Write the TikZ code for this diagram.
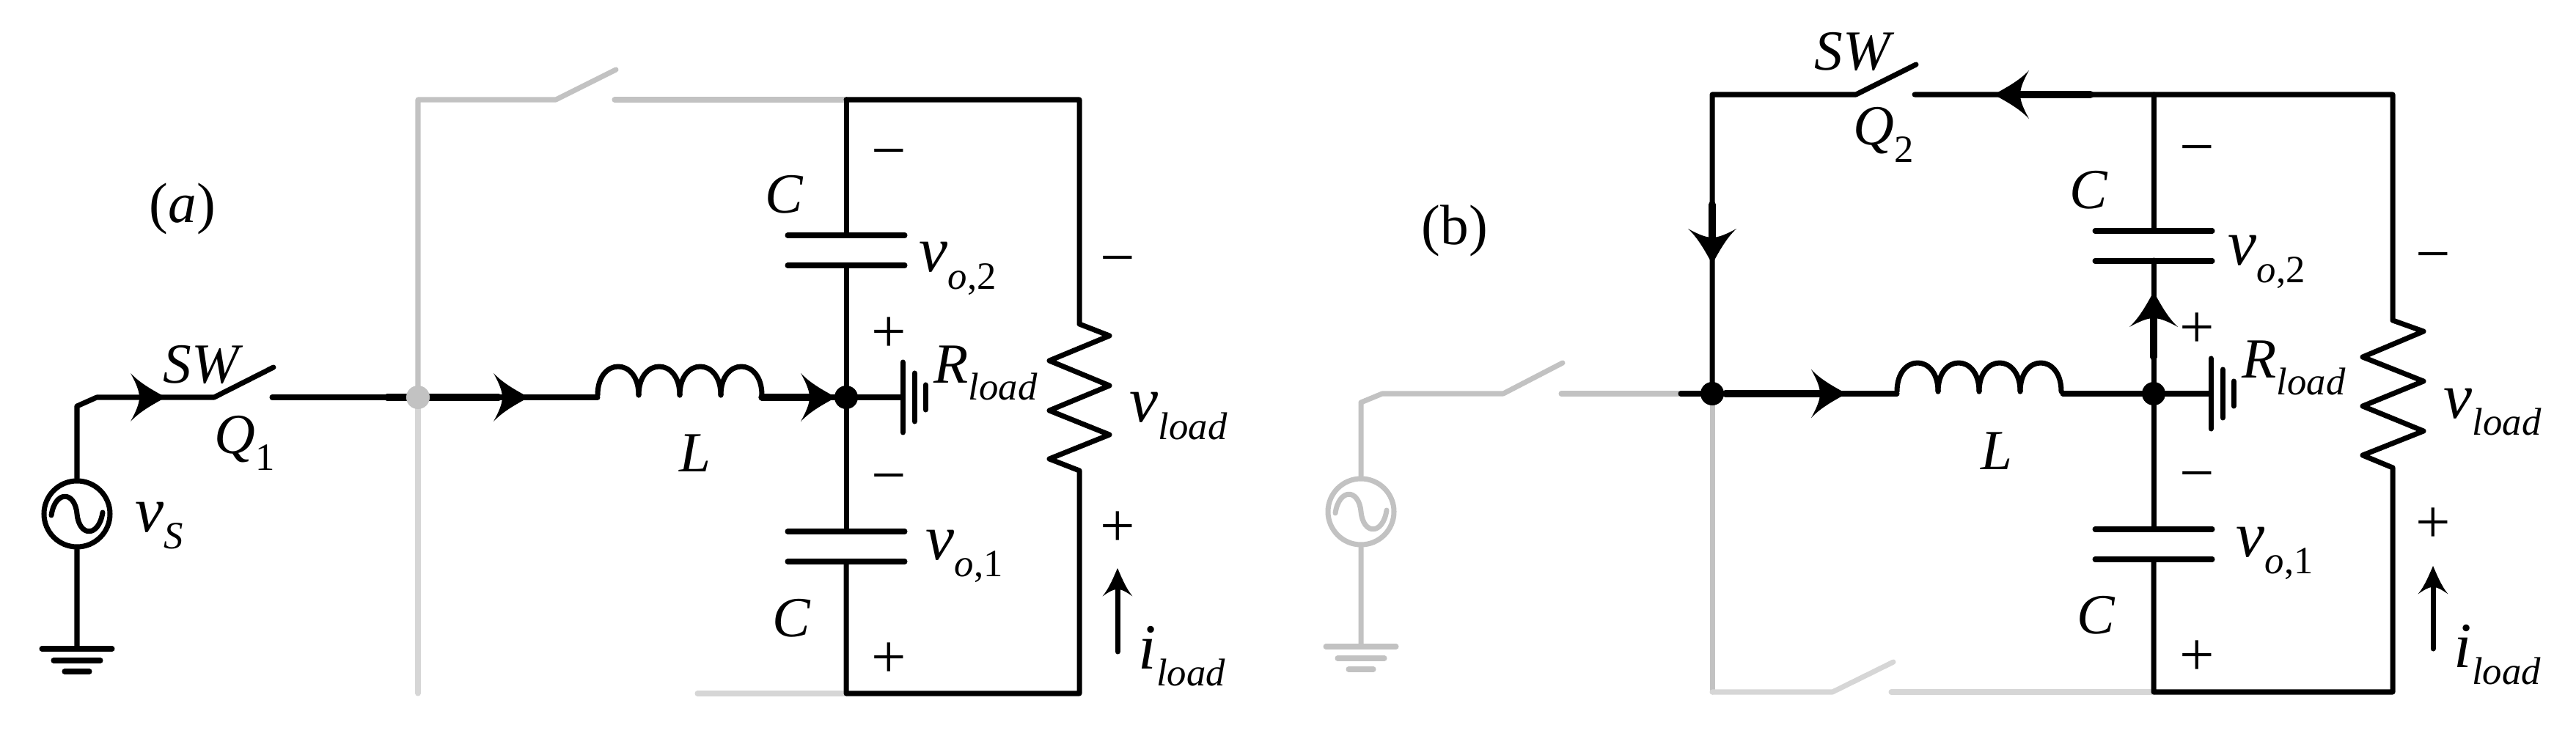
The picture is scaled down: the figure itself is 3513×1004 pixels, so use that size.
\documentclass[tikz,border=0pt]{standalone}
\usepackage[no-math]{fontspec}
\setmainfont{Liberation Serif}
\definecolor{wiregray}{gray}{0.76}
\definecolor{palegray}{gray}{0.84}
\newcommand{\lab}[2]{\textit{#1}\raisebox{-.3em}{\fontsize{15}{15}\selectfont #2}}
\newcommand{\bigv}[2]{{\fontsize{25}{25}\selectfont\textit{#1}}\raisebox{-6.8pt}{\fontsize{15}{15}\selectfont #2}}

\begin{document}
\begin{tikzpicture}[x=0.1mm,y=-0.1mm]
\tikzset{wire/.style={line width=2pt,line cap=round,line join=round}}
\tikzset{heavy/.style={line width=2.7pt,line cap=round}}
\tikzset{faded/.style={wire,color=wiregray}}
\tikzset{pale/.style={wire,color=palegray}}
\tikzset{txt/.style={inner sep=0pt,anchor=base west,font=\fontsize{22}{22}\selectfont}}
\tikzset{sign/.style={inner sep=0pt,font=\fontsize{24}{24}\selectfont}}
\tikzset{dot/.style={circle,fill=black,inner sep=0pt,minimum size=3.2mm}}
\tikzset{src/.style={circle,wire,draw,inner sep=0pt,minimum size=9mm}}
\tikzset{flow/.pic={\fill (0,0) .. controls (-14,-8) and (-34,-18) .. (-48,-33) .. controls (-42,-22) and (-36,-10) .. (-36,0) .. controls (-36,10) and (-42,22) .. (-48,33) .. controls (-34,18) and (-14,8) .. (0,0) -- cycle;}}
\tikzset{ground/.pic={\draw[wire] (-48,0) -- (48,0) (-32,16) -- (32,16) (-17,31) -- (17,31);}}
\tikzset{sine/.pic={\draw[wire] (-35,2) .. controls (-30,-32) and (-3,-32) .. (0,0) .. controls (3,32) and (30,32) .. (35,-2);}}
\tikzset{coil/.pic={\foreach \k in {0,56,112,168} \draw[wire] (\k,-3) .. controls (\k,-55) and (\k+56,-55) .. (\k+56,-3);}}
\tikzset{cells/.pic={\draw[wire] (0,-48) -- (0,48) (16,-33) -- (16,33) (31,-17) -- (31,17);}}
\tikzset{plates/.pic={\draw[wire] (-80,0) -- (80,0) (-80,41) -- (80,41);}}
\useasboundingbox (0,0) rectangle (3513,1004);

\coordinate (mida) at (570,542);
\coordinate (toplefta) at (570,136);
\coordinate (hingetopa) at (758,136);
\coordinate (bladetopa) at (840,95);
\coordinate (conttopa) at (838,136);
\coordinate (busa) at (1154,136);
\coordinate (loada) at (1472,136);
\coordinate (busbota) at (1154,946);
\coordinate (loadbota) at (1472,946);
\coordinate (palebota) at (951,946);
\coordinate (lowa) at (570,946);
\coordinate (kinka) at (105,554);
\coordinate (kinkb) at (132,542);
\coordinate (hingea) at (292,542);
\coordinate (bladea) at (373,501);
\coordinate (conta) at (371,542);
\coordinate (coilina) at (815,542);
\coordinate (coilouta) at (1039,542);
\coordinate (cellsa) at (1231,542);
\coordinate (heavyaa) at (528,542);
\coordinate (heavyab) at (680,542);
\coordinate (heavyac) at (1105,542);
\coordinate (capaa) at (1154,321);
\coordinate (capab) at (1154,362);
\coordinate (capac) at (1154,725);
\coordinate (capad) at (1154,766);
\coordinate (gnda) at (105,885);
\coordinate (ishafta) at (1524,889);
\coordinate (itipa) at (1524,790);
\node[src] (srca) at (105,701) {};

\draw[pale] (mida) -- (lowa);
\draw[faded] (mida) -- (toplefta) -- (hingetopa) -- (bladetopa);
\draw[faded] (conttopa) -- (busa);
\draw[pale] (palebota) -- (busbota);
\draw[wire] (gnda) -- (srca) -- (kinka) -- (kinkb) -- (hingea) -- (bladea);
\draw[wire] (conta) -- (coilina);
\draw[wire] (coilouta) -- (cellsa);
\draw[heavy] (heavyaa) -- (heavyab);
\draw[heavy] (coilouta) -- (heavyac);
\draw[wire] (busa) -- (capaa);
\draw[wire] (capab) -- (capac);
\draw[wire] (capad) -- (busbota) -- (loadbota) -- (1472,642) -- (1431,626) -- (1513,593) -- (1431,560) -- (1513,526) -- (1431,492) -- (1513,458) -- (1472,442) -- (loada) -- (busa);
\draw[wire] (ishafta) -- (itipa);
\node[circle,fill=wiregray,inner sep=0pt,minimum size=3.2mm] (juna) at (mida) {};
\node[dot] (dota) at (1154,542) {};
\pic at (105,701) {sine};
\pic at (gnda) {ground};
\pic at (coilina) {coil};
\pic at (cellsa) {cells};
\pic at (1154,321) {plates};
\pic at (1154,725) {plates};
\pic at (226,542) {flow};
\pic at (721,542) {flow};
\pic at (1140,542) {flow};
\pic[rotate=90,xscale=.8,yscale=.62] at (1524,775) {flow};

\node[txt] (labela) at (203,304) {(\textit{a})};
\node[txt] (swa) at (222,522) {\textit{SW}};
\node[txt] (qa) at (292,618) {\lab{Q}{1}};
\node[txt] (vsa) at (184,725) {\bigv{v}{\textit{S}}};
\node[txt] (la) at (926,643) {\textit{L}};
\node[txt] (caa) at (1043,291) {\textit{C}};
\node[txt] (cba) at (1053,868) {\textit{C}};
\node[txt] (voba) at (1253,371) {\bigv{v}{\textit{o},2}};
\node[txt] (voaa) at (1262,763) {\bigv{v}{\textit{o},1}};
\node[txt] (ra) at (1273,522) {\lab{R}{\textit{load}}};
\node[txt] (vla) at (1540,576) {\bigv{v}{\textit{load}}};
\node[txt] (ila) at (1552,912) {\bigv{i}{\textit{load}}};
\node[sign] (maa) at (1212,218) {−};
\node[sign] (paa) at (1212,457) {+};
\node[sign] (mba) at (1212,661) {−};
\node[sign] (pba) at (1212,901) {+};
\node[sign] (mca) at (1524,364) {−};
\node[sign] (pca) at (1524,722) {+};

\coordinate (midb) at (2335,537);
\coordinate (topleftb) at (2335,129);
\coordinate (hingetopb) at (2531,129);
\coordinate (bladetopb) at (2613,88);
\coordinate (conttopb) at (2611,129);
\coordinate (busb) at (2937,129);
\coordinate (loadb) at (3263,129);
\coordinate (busbotb) at (2937,944);
\coordinate (loadbotb) at (3263,944);
\coordinate (lowb) at (2335,944);
\coordinate (hingelowb) at (2499,944);
\coordinate (bladelowb) at (2582,903);
\coordinate (contlowb) at (2579,944);
\coordinate (kinkc) at (1856,549);
\coordinate (kinkd) at (1885,537);
\coordinate (hingeb) at (2050,537);
\coordinate (bladeb) at (2131,495);
\coordinate (contb) at (2129,537);
\coordinate (stubb) at (2292,537);
\coordinate (coilinb) at (2587,537);
\coordinate (coiloutb) at (2813,537);
\coordinate (cellsb) at (3015,537);
\coordinate (capba) at (2937,315);
\coordinate (capbb) at (2937,355);
\coordinate (capbc) at (2937,722);
\coordinate (capbd) at (2937,763);
\coordinate (gndb) at (1856,882);
\coordinate (ishaftb) at (3318,885);
\coordinate (itipb) at (3318,787);
\node[src,color=wiregray] (srcb) at (1856,698) {};

\draw[faded] (gndb) -- (srcb) -- (kinkc) -- (kinkd) -- (hingeb) -- (bladeb);
\draw[faded] (contb) -- (stubb);
\draw[faded] (midb) -- (lowb);
\draw[pale] (lowb) -- (hingelowb) -- (bladelowb);
\draw[pale] (contlowb) -- (busbotb);
\draw[wire] (stubb) -- (coilinb);
\draw[wire] (coiloutb) -- (cellsb);
\draw[wire] (midb) -- (topleftb) -- (hingetopb) -- (bladetopb);
\draw[wire] (conttopb) -- (loadb) -- (3263,437) -- (3305,452) -- (3222,487) -- (3305,520) -- (3222,554) -- (3305,588) -- (3222,621) -- (3263,638) -- (loadbotb) -- (busbotb) -- (capbd);
\draw[wire] (busb) -- (capba);
\draw[wire] (capbb) -- (capbc);
\draw[heavy] (2745,129) -- (2851,129);
\draw[heavy] (2335,279) -- (2335,335);
\draw[heavy] (2353,537) -- (2485,537);
\draw[heavy] (2937,425) -- (2937,487);
\draw[wire] (ishaftb) -- (itipb);
\node[dot] (junb) at (midb) {};
\node[dot] (dotb) at (2937,537) {};
\pic[color=wiregray] at (1856,698) {sine};
\pic[color=wiregray] at (gndb) {ground};
\pic at (coilinb) {coil};
\pic at (cellsb) {cells};
\pic at (2937,315) {plates};
\pic at (2937,722) {plates};
\pic[rotate=180] at (2719,129) {flow};
\pic[rotate=-90] at (2335,360) {flow};
\pic at (2518,537) {flow};
\pic[rotate=90] at (2937,398) {flow};
\pic[rotate=90,xscale=.8,yscale=.62] at (3318,772) {flow};

\node[txt] (labelb) at (1938,334) {(b)};
\node[txt] (swb) at (2474,96) {\textit{SW}};
\node[txt] (qb) at (2527,198) {\lab{Q}{2}};
\node[txt] (lb) at (2701,640) {\textit{L}};
\node[txt] (cab) at (2822,285) {\textit{C}};
\node[txt] (cbb) at (2832,864) {\textit{C}};
\node[txt] (vobb) at (3038,362) {\bigv{v}{\textit{o},2}};
\node[txt] (voab) at (3049,759) {\bigv{v}{\textit{o},1}};
\node[txt] (rb) at (3057,515) {\lab{R}{\textit{load}}};
\node[txt] (vlb) at (3332,570) {\bigv{v}{\textit{load}}};
\node[txt] (ilb) at (3346,910) {\bigv{i}{\textit{load}}};
\node[sign] (mab) at (2996,213) {−};
\node[sign] (pab) at (2996,451) {+};
\node[sign] (mbb) at (2996,658) {−};
\node[sign] (pbb) at (2996,898) {+};
\node[sign] (mcb) at (3318,359) {−};
\node[sign] (pcb) at (3318,717) {+};
\end{tikzpicture}
\end{document}
